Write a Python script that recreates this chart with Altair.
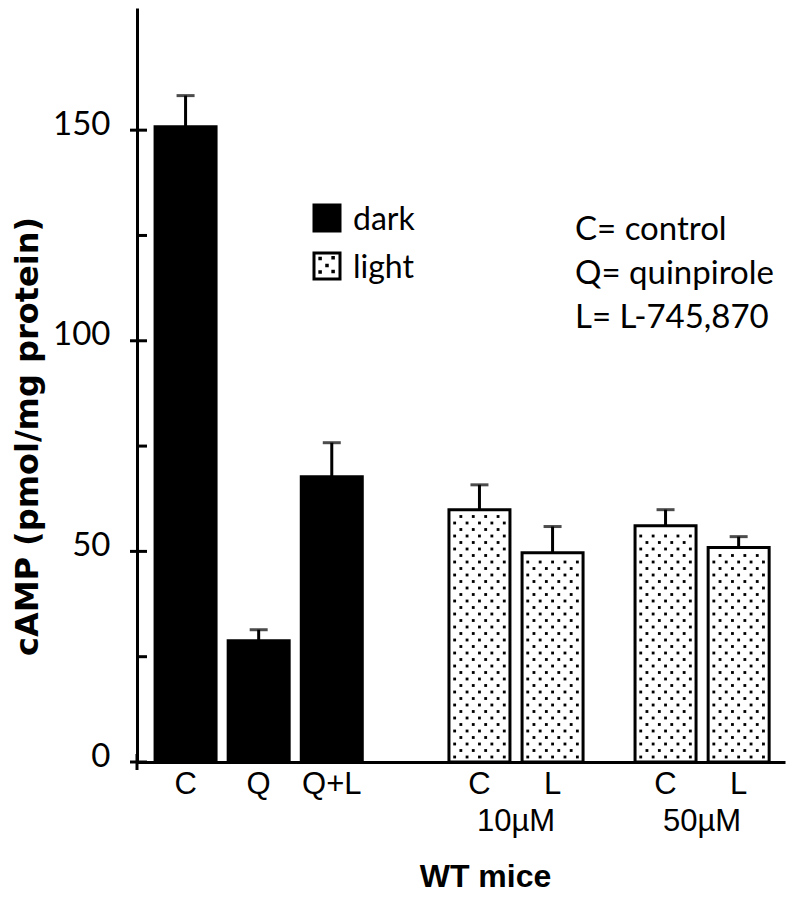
import altair as alt
import pandas as pd
import numpy as np

# ---- data ----
bar_labels = ["C", "Q", "Q+L", "C", "L", "C", "L"]
conditions = ["dark", "dark", "dark", "light", "light", "light", "light"]
groups = ["", "", "", "10µM", "10µM", "50µM", "50µM"]
means = [150.8, 28.8, 67.7, 59.9, 49.7, 56.1, 50.9]
sems = [7.4, 2.6, 8.1, 5.9, 6.2, 3.8, 2.6]
conc_labels = ["10µM", "50µM"]
legend_conditions = ["dark", "light"]
notes = ["C= control", "Q= quinpirole", "L= L-745,870"]
y_major = [0, 50, 100, 150]
y_minor = [25, 75, 125]

# ---- layout constants ----
W, H = 648, 754
Y_MAX = 179
X_MAX = 8.64
GROUP_START = [0.59, 4.57, 7.09]
SLOT_STEP = 0.99
KX = W / X_MAX
KY = H / Y_MAX
LEG_X, LEG_Y, LEG_STEP = 190, 210, 48

# positions from group order
pos, gidx, slot = [], -1, 0
prev = None
for g in groups:
    if g != prev:
        gidx += 1
        slot = 0
        prev = g
    pos.append(GROUP_START[gidx] + slot * SLOT_STEP)
    slot += 1

df = pd.DataFrame({"label": bar_labels, "condition": conditions, "group": groups,
                   "mean": means, "sem": sems, "pos": pos})
df["top"] = df["mean"] + df["sem"]

conc_df = pd.DataFrame({"text": conc_labels,
                        "pos": [np.mean([p for p, g in zip(pos, groups) if g == c]) for c in conc_labels]})

# dot texture for light bars
dots = []
for p, v, c in zip(pos, means, conditions):
    if c != "light":
        continue
    hpx = v * KY
    r = 0
    ypx = 5.0
    while ypx <= hpx - 4:
        offs = [-25.2, -12.6, 0, 12.6, 25.2] if r % 2 == 0 else [-18.9, -6.3, 6.3, 18.9]
        for o in offs:
            dots.append({"x": p + o / KX, "y": ypx / KY})
        r += 1
        ypx += 6.5
dots_df = pd.DataFrame(dots)

xscale = alt.Scale(domain=[0, X_MAX], nice=False, zero=False)
yscale = alt.Scale(domain=[0, Y_MAX], nice=False)
cscale = alt.Scale(domain=legend_conditions, range=["black", "white"])
LIGHT_PATH = ("M-1,-1H1V1H-1Z "
              "M-0.55,-0.6h0.04v0.04h-0.04Z M0.45,-0.65h0.04v0.04h-0.04Z "
              "M-0.02,-0.05h0.04v0.04h-0.04Z "
              "M-0.55,0.45h0.04v0.04h-0.04Z M0.45,0.4h0.04v0.04h-0.04Z")
SHAPES = {"dark": "square", "light": LIGHT_PATH}

base = alt.Chart(df)

bars = base.mark_bar(size=61, stroke="black", strokeWidth=3).encode(
    x=alt.X("pos:Q", scale=xscale,
            axis=alt.Axis(labels=False, ticks=False, grid=False, domainColor="black",
                          domainWidth=3, title="WT mice", titleFont="Liberation Sans",
                          titleFontSize=32, titleFontWeight="bold", titleColor="black",
                          titleX=348, titleY=114, titleAlign="center", titleBaseline="middle")),
    y=alt.Y("mean:Q", scale=yscale,
            axis=alt.Axis(values=y_major, ticks=False, grid=False, domainColor="black",
                          domainWidth=3, labelFont="Lato", labelFontSize=33, labelColor="black",
                          labelPadding=27, labelOffset=-6, labelFlush=False,
                          title="cAMP (pmol/mg protein)", titleFont="DejaVu Sans",
                          titleFontSize=32, titleFontWeight="bold", titleColor="black",
                          titleX=-100, titleY=428, titleAngle=270, titleAlign="center",
                          titleBaseline="alphabetic")),
    color=alt.Color("condition:N", scale=cscale, legend=None),
)

dot_layer = alt.Chart(dots_df).mark_square(size=8, color="black", opacity=1).encode(
    x=alt.X("x:Q", scale=xscale), y=alt.Y("y:Q", scale=yscale))

err = base.mark_rule(color="black", strokeWidth=3).encode(
    x="pos:Q", y="mean:Q", y2="top:Q")
caps = base.mark_tick(orient="horizontal", size=18, thickness=3, color="black").encode(
    x="pos:Q", y="top:Q")

major_df = pd.DataFrame({"v": y_major})
minor_df = pd.DataFrame({"v": y_minor})
tmaj = alt.Chart(major_df).mark_rule(color="black", strokeWidth=3).encode(
    y=alt.Y("v:Q", scale=yscale), x=alt.value(-7), x2=alt.value(10))
tmin = alt.Chart(minor_df).mark_rule(color="black", strokeWidth=3).encode(
    y=alt.Y("v:Q", scale=yscale), x=alt.value(0), x2=alt.value(10))
ext = alt.Chart(major_df.head(1)).mark_rule(color="black", strokeWidth=3).encode(
    x=alt.value(0), y=alt.value(H - 8), y2=alt.value(H + 8))

cat = base.mark_text(font="Liberation Sans", fontSize=31, baseline="middle", color="black").encode(
    x="pos:Q", y=alt.value(H + 23), text="label:N")
conc = alt.Chart(conc_df).mark_text(font="Liberation Sans", fontSize=31, baseline="middle",
                                    color="black").encode(
    x=alt.X("pos:Q", scale=xscale), y=alt.value(H + 60), text="text:N")

annot = alt.Chart(pd.DataFrame({"t": [0]})).mark_text(
    font="Lato", fontSize=33, align="left", baseline="alphabetic", lineHeight=44,
    color="black").encode(
    x=alt.value(438), y=alt.value(232), text=alt.value(notes))

# legend (drawn as marks)
legend_layers = []
for i, cond in enumerate(legend_conditions):
    ldf = pd.DataFrame({"condition": [cond]})
    sym = alt.Chart(ldf).mark_point(filled=True, size=676, shape=SHAPES[cond], stroke="black",
                                    strokeWidth=3, opacity=1).encode(
        x=alt.value(LEG_X), y=alt.value(LEG_Y + i * LEG_STEP),
        fill=alt.Fill("condition:N", scale=cscale, legend=None))
    lab = alt.Chart(ldf).mark_text(font="Lato", fontSize=32, align="left", baseline="middle",
                                   color="black").encode(
        x=alt.value(LEG_X + 26), y=alt.value(LEG_Y + i * LEG_STEP + 2), text="condition:N")
    legend_layers += [sym, lab]

chart = alt.layer(bars, dot_layer, err, caps, tmaj, tmin, ext, cat, conc, annot,
                  *legend_layers).properties(
    width=W, height=H,
    padding={"left": 129, "top": 0, "right": 5, "bottom": 134},
    autosize=alt.AutoSizeParams(type="none"),
).configure_view(stroke=None)

chart.save("out.html", embed_options={"renderer": "svg", "actions": False})
